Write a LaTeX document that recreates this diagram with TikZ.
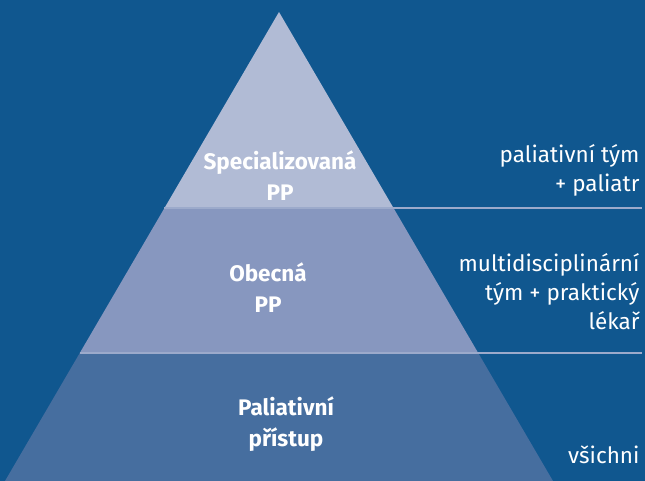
\documentclass[tikz,border=0pt]{standalone}
\usepackage{fontspec}
\setmainfont{Fira Sans}
\definecolor{bg}{HTML}{10578F}
\definecolor{tierA}{HTML}{B1BBD5}
\definecolor{tierB}{HTML}{8797BF}
\definecolor{tierC}{HTML}{466E9F}
\definecolor{rule}{HTML}{9CAACB}
\begin{document}
\begin{tikzpicture}[x=1pt,y=-1pt,
  tiertext/.style={text=white,font=\fontsize{22.5}{31}\selectfont\bfseries,align=center},
  sidetext/.style={text=white,font=\fontsize{22.5}{29}\selectfont,align=right,anchor=east},
  divider/.style={draw=rule,line width=2pt}]
\fill[bg] (0,0) rectangle (645,481);
\useasboundingbox (0,0) rectangle (645,481);
\coordinate (apex) at (279,12);
\coordinate (bl) at (5,481);
\coordinate (br) at (553,481);
\begin{scope}
\clip (apex) -- (bl) -- (br) -- cycle;
\fill[tierA] (0,0) rectangle (645,208);
\fill[tierB] (0,208) rectangle (645,353);
\fill[tierC] (0,353) rectangle (645,481);
\end{scope}
\coordinate (d1l) at (164.3,208);
\coordinate (d1r) at (642,208);
\coordinate (d2l) at (79.5,353);
\coordinate (d2r) at (642,353);
\draw[divider] (d1l) -- (d1r);
\draw[divider] (d2l) -- (d2r);
\node[tiertext] (spec) at (280,176) {Specializovaná\\PP};
\node[tiertext] (obec) at (268,288) {Obecná\\PP};
\node[tiertext] (pal) at (286,424) {Paliativní\\přístup};
\node[sidetext] (s1) at (643,170) {paliativní tým\\+ paliatr};
\node[sidetext] (s2) at (643,292) {multidisciplinární\\tým + praktický\\lékař};
\node[sidetext] (s3) at (643,455) {všichni};
\end{tikzpicture}
\end{document}
